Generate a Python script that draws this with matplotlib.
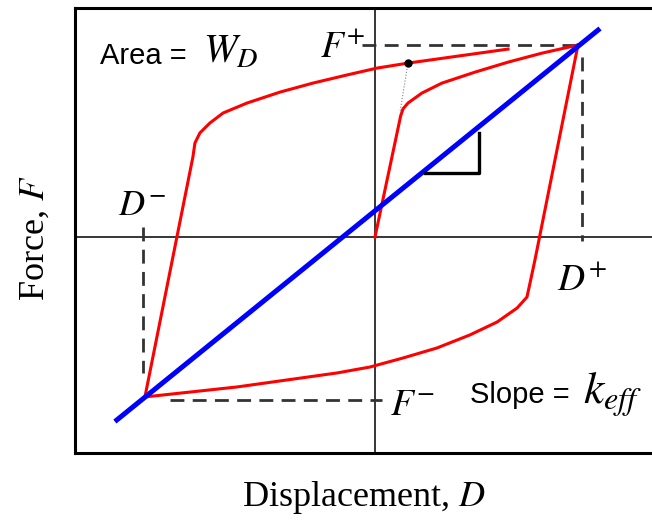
#import the necessary libraries
import matplotlib
matplotlib.use("Agg")
import matplotlib.pyplot as plt

#use a times-like font for the math symbols
plt.rcParams['mathtext.fontset'] = 'stix'

#key values of the hysteresis loop (normalised units)
D_plus = 1.0
D_minus = -1.13
F_plus = 1.0
F_minus = -0.85

#outer loop - lower branch, from the negative peak round to the positive peak
lower_D = [-1.122, -0.673, -0.185, -0.024, 0.137, 0.302, 0.463, 0.595, 0.693, 0.741, 0.756, 0.78, 0.99]
lower_F = [-0.833, -0.781, -0.708, -0.677, -0.63, -0.578, -0.51, -0.443, -0.37, -0.313, -0.24, -0.12, 1.0]

#outer loop - upper branch, from the right end back down to the negative peak
upper_D = [0.649, 0.161, 0.01, -0.137, -0.302, -0.463, -0.624, -0.741, -0.805, -0.854, -0.878, -0.888, -1.122]
upper_F = [0.979, 0.906, 0.88, 0.844, 0.802, 0.755, 0.698, 0.646, 0.594, 0.542, 0.49, 0.417, -0.833]

#initial loading curve from the origin to the positive peak
load_D = [0.0, 0.125, 0.137, 0.161, 0.229, 0.327, 0.488, 0.649, 0.815, 0.99]
load_F = [0.0, 0.63, 0.668, 0.698, 0.75, 0.802, 0.859, 0.911, 0.958, 1.0]

#effective stiffness line
keff_D = [-1.259, 1.088]
keff_F = [-0.953, 1.078]

#slope triangle and the marked point
tri_D = [0.244, 0.507, 0.507]
tri_F = [0.333, 0.333, 0.542]
dot_D = [0.161, 0.122]
dot_F = [0.906, 0.651]

fig = plt.figure(figsize=(6.52, 5.21), dpi=100)
ax = fig.add_axes([75/652, 68/521, 577/652, 445/521])
ax.set_xlim(-1.463, 1.351)
ax.set_ylim(-1.125, 1.193)

#the coordinate axes through the origin
ax.axhline(0, color='black', lw=1.1)
ax.axvline(0, color='black', lw=1.1)

#dashed guide lines to the peaks
dash = dict(color='#333333', lw=2, dashes=(5, 3))
ax.plot([-0.063, 0.99], [F_plus, F_plus], **dash)
ax.plot([D_plus + 0.01, D_plus + 0.01], [0.94, -0.02], **dash)
ax.plot([D_minus, D_minus], [0.052, -0.708], **dash)
ax.plot([-1.0, 0.034], [F_minus, F_minus], **dash)

#the loop
ax.plot(upper_D, upper_F, color='red', lw=2.2, solid_joinstyle='round')
ax.plot(lower_D, lower_F, color='red', lw=2.2, solid_joinstyle='round')
ax.plot(load_D, load_F, color='red', lw=2.2, solid_joinstyle='round')

#effective stiffness
ax.plot(keff_D, keff_F, color='blue', lw=3.6)

#slope triangle
ax.plot(tri_D, tri_F, color='black', lw=2.4)

#marked point with a dotted line
ax.plot(dot_D, dot_F, color='gray', lw=0.8, ls=':')
ax.plot(dot_D[0], dot_F[0], 'o', color='black', ms=5)

#labels on the plot
ax.text(-1.341, 0.901, 'Area = ', fontsize=21, family='Liberation Sans', va='baseline')
ax.text(-0.839, 0.906, r'$W_D$', fontsize=29, va='baseline')
ax.text(-0.268, 0.9375, r'$F^{+}$', fontsize=27, va='baseline')
ax.text(-1.254, 0.115, r'$D^{-}$', fontsize=26, va='baseline')
ax.text(0.888, -0.276, r'$D^{+}$', fontsize=27, va='baseline')
ax.text(0.073, -0.927, r'$F^{-}$', fontsize=27, va='baseline')
ax.text(0.463, -0.865, 'Slope = ', fontsize=21, family='Liberation Sans', va='baseline')
ax.text(1.015, -0.87, r'$k_{eff}$', fontsize=33, va='baseline')

#box around the plot, open on the right
for s in ['top', 'bottom', 'left']:
    ax.spines[s].set_linewidth(2.2)
ax.spines['right'].set_visible(False)
ax.set_xticks([])
ax.set_yticks([])

#axis titles
fig.text(364/652, 1 - 497/521, 'Displacement, $D$', fontsize=26, family='Liberation Serif', ha='center', va='center')
fig.text(35/652, 1 - 238/521, 'Force, $F$', fontsize=26, family='Liberation Serif', ha='center', va='center', rotation=90)

#save the plot as a png to the current folder
plt.savefig("out.png", dpi=100)
plt.close()
